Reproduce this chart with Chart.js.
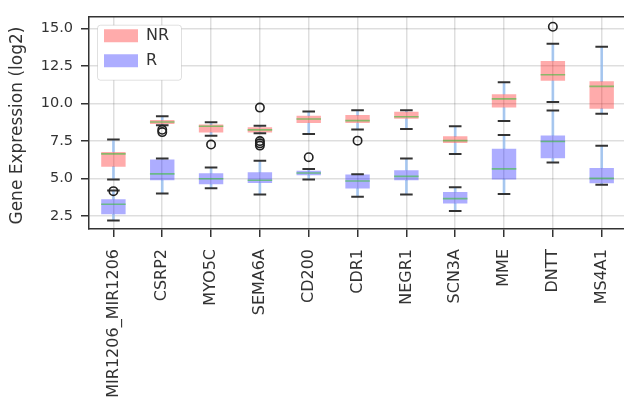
<!DOCTYPE html>
<html>
<head>
<meta charset="utf-8">
<script src="https://cdn.jsdelivr.net/npm/chart.js@4/dist/chart.umd.min.js"></script>
<style>
  html, body { margin: 0; padding: 0; background: #fff; overflow: hidden; }
  #wrap { width: 640px; height: 398px; }
</style>
</head>
<body>
<div id="wrap"><canvas id="c" width="640" height="398"></canvas></div>
<script>
// Genes on the x axis
const categories = ['MIR1206_MIR1206', 'CSRP2', 'MYO5C', 'SEMA6A', 'CD200', 'CDR1',
                    'NEGR1', 'SCN3A', 'MME', 'DNTT', 'MS4A1'];

// Non-responders (NR): whisker ends, quartiles and median (log2 expression)
const nrLow    = [4.95, 8.55, 7.86, 8.02, 7.97, 8.27, 8.31, 6.65, 8.84, 10.10, 9.32];
const nrQ1     = [5.80, 8.64, 8.08, 8.08, 8.70, 8.70, 8.99, 7.38, 9.73, 11.51, 9.66];
const nrMedian = [6.65, 8.77, 8.49, 8.25, 8.97, 8.86, 9.12, 7.53, 10.31, 11.92, 11.14];
const nrQ3     = [6.78, 8.90, 8.60, 8.42, 9.19, 9.23, 9.45, 7.82, 10.62, 12.83, 11.48];
const nrHigh   = [7.60, 9.16, 8.75, 8.53, 9.47, 9.55, 9.55, 8.49, 11.42, 13.98, 13.78];
const nrOutliers = [
  ['MIR1206_MIR1206', 4.17],
  ['CSRP2', 8.25], ['CSRP2', 8.10],
  ['MYO5C', 7.27],
  ['SEMA6A', 9.73], ['SEMA6A', 7.50], ['SEMA6A', 7.35], ['SEMA6A', 7.20],
  ['CD200', 6.43],
  ['CDR1', 7.53],
  ['DNTT', 15.11]
];

// Responders (R)
const rLow    = [2.22, 4.02, 4.37, 3.95, 4.95, 3.80, 3.95, 2.85, 3.98, 6.08, 4.60];
const rQ1     = [2.63, 4.89, 4.63, 4.71, 5.23, 4.34, 4.89, 3.35, 4.95, 6.36, 4.69];
const rMedian = [3.30, 5.32, 4.99, 4.89, 5.38, 4.84, 5.15, 3.67, 5.65, 7.47, 5.02];
const rQ3     = [3.63, 6.28, 5.36, 5.43, 5.52, 5.28, 5.56, 4.11, 6.99, 7.88, 5.71];
const rHigh   = [4.22, 6.34, 5.74, 6.19, 5.65, 5.30, 6.34, 4.43, 7.90, 9.53, 7.19];
const rOutliers = [];

// Y axis range and tick step
const yMin = 1.65, yMax = 15.78, yStep = 2.5;

const NR_FILL = 'rgba(255, 0, 0, 0.33)';
const R_FILL = 'rgba(0, 0, 255, 0.32)';
const WHISKER = 'rgba(150, 190, 240, 0.8)';
const CAP = '#333333';
const MEDIAN = 'rgba(60, 190, 60, 0.6)';
const INK = '#333333';
const GRID = 'rgba(0, 0, 0, 0.13)';
const FONT = "'DejaVu Sans', sans-serif";

const range = (a, b) => a.map((v, i) => [v, b[i]]);
const toPoints = list => list.map(([x, y]) => ({ x, y }));

function boxDatasets(name, fill, low, q1, med, q3, high, outliers, baseOrder) {
  return [
    { type: 'bar', label: name, data: range(q1, q3), backgroundColor: fill,
      borderWidth: 0, grouped: false, categoryPercentage: 1, barPercentage: 0.5,
      order: baseOrder + 3 },
    { type: 'bar', label: name + ' upper whisker', data: range(q3, high),
      backgroundColor: WHISKER, borderWidth: 0, grouped: false, barThickness: 2,
      order: baseOrder + 5 },
    { type: 'bar', label: name + ' lower whisker', data: range(low, q1),
      backgroundColor: WHISKER, borderWidth: 0, grouped: false, barThickness: 2,
      order: baseOrder + 5 },
    { type: 'line', label: name + ' upper cap', data: high, showLine: false,
      pointStyle: 'line', pointRadius: 6.3, pointHoverRadius: 6.3,
      pointBorderWidth: 2, pointHoverBorderWidth: 2, borderColor: CAP, order: 2 },
    { type: 'line', label: name + ' lower cap', data: low, showLine: false,
      pointStyle: 'line', pointRadius: 6.3, pointHoverRadius: 6.3,
      pointBorderWidth: 2, pointHoverBorderWidth: 2, borderColor: CAP, order: 2 },
    { type: 'line', label: name + ' median', data: med, showLine: false,
      pointStyle: 'line', pointRadius: 12.3, pointHoverRadius: 12.3,
      pointBorderWidth: 1.6, pointHoverBorderWidth: 1.6, borderColor: MEDIAN, order: 1 },
    { type: 'line', label: name + ' outliers', data: toPoints(outliers), showLine: false,
      pointStyle: 'circle', pointRadius: 4.2, pointHoverRadius: 4.2,
      pointBorderWidth: 1.6, pointHoverBorderWidth: 1.6,
      borderColor: '#222', backgroundColor: 'rgba(0,0,0,0)', order: 0 }
  ];
}

const datasets = [
  ...boxDatasets('NR', NR_FILL, nrLow, nrQ1, nrMedian, nrQ3, nrHigh, nrOutliers, 0),
  ...boxDatasets('R', R_FILL, rLow, rQ1, rMedian, rQ3, rHigh, rOutliers, 1)
];

// Places the legend inside the plot, and gives it a framed white panel
const legendPanel = {
  id: 'legendPanel',
  afterLayout(chart) {
    const lg = chart.legend, ca = chart.chartArea;
    lg.left = ca.left + 6;
    lg.top = ca.top + 2;
    lg.right = lg.left + lg.width;
    lg.bottom = lg.top + lg.height;
  },
  afterDatasetsDraw(chart) {
    const { ctx, chartArea: ca } = chart;
    // top spine of the axes box
    ctx.save();
    ctx.strokeStyle = INK;
    ctx.lineWidth = 1.5;
    ctx.beginPath();
    ctx.moveTo(ca.left, ca.top);
    ctx.lineTo(ca.right, ca.top);
    ctx.stroke();
    // legend panel
    const x = ca.left + 8, y = ca.top + 8, w = 84, h = 55, r = 3;
    ctx.beginPath();
    ctx.roundRect(x + 0.5, y + 0.5, w, h, r);
    ctx.fillStyle = '#ffffff';
    ctx.fill();
    ctx.strokeStyle = 'rgba(0,0,0,0.12)';
    ctx.lineWidth = 1;
    ctx.stroke();
    ctx.restore();
    chart.legend.draw();
  }
};

new Chart(document.getElementById('c'), {
  type: 'bar',
  data: { labels: categories, datasets },
  plugins: [legendPanel],
  options: {
    responsive: false,
    animation: false,
    layout: { padding: { top: 12, right: 9, left: 0, bottom: 0 } },
    plugins: {
      tooltip: { enabled: false },
      legend: {
        position: 'chartArea',
        align: 'start',
        labels: {
          filter: item => item.text === 'NR' || item.text === 'R',
          boxWidth: 34, boxHeight: 13, padding: 9,
          color: INK, font: { family: FONT, size: 16 }
        }
      }
    },
    scales: {
      x: {
        type: 'category',
        offset: true,
        afterFit: s => { s.height = 169; },
        grid: { offset: false, color: GRID, lineWidth: 1.5, tickColor: INK,
                tickLength: 8, tickWidth: 1.5 },
        border: { color: INK, width: 1.5 },
        ticks: { autoSkip: false, minRotation: 90, maxRotation: 90, padding: 12,
                 color: INK, font: { family: FONT, size: 16 } }
      },
      y: {
        min: yMin, max: yMax,
        afterFit: s => { s.width = 89; },
        grid: { color: GRID, lineWidth: 1.5, tickColor: INK, tickLength: 8, tickWidth: 1.5 },
        border: { color: INK, width: 1.5 },
        ticks: { stepSize: yStep, includeBounds: false, padding: 8,
                 callback: v => v.toFixed(1),
                 color: INK, font: { family: FONT, size: 14.5 } },
        title: { display: true, text: 'Gene Expression (log2) ', color: INK,
                 padding: { top: 7, bottom: 4 },
                 font: { family: FONT, size: 17 } }
      }
    }
  }
});
</script>
</body>
</html>
